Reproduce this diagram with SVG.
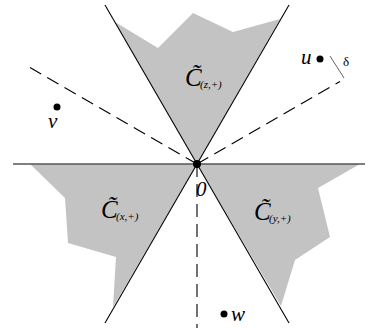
<svg xmlns="http://www.w3.org/2000/svg" width="375" height="328" viewBox="0 0 375 328">
<style>
.region{fill:#c3c3c3;stroke:none}
.ray{stroke:#000;stroke-width:1.1;fill:none}
.axis{stroke:#555;stroke-width:1.4;fill:none}
.dash{stroke:#000;stroke-width:1.1;fill:none;stroke-dasharray:13 7}
.tick{stroke:#666;stroke-width:1;fill:none}
.lbl{font-family:"Liberation Serif",serif;font-style:italic;fill:#000}
.big{font-size:25px}
.sub{font-size:11px}
.pt{font-size:21px}
.dot{fill:#000}
</style>
<rect width="375" height="328" fill="#fff"/>
<g id="regions">
<polygon id="cz" class="region" points="115,22 158,48 193,13 233,32 280,19 197,164"/>
<polygon id="cx" class="region" points="30,164 65,198 68,243 116,257 113,307 197,164"/>
<polygon id="cy" class="region" points="360,164 318,188 330,237 295,260 281,306 197,164"/>
</g>
<g id="connectors">
<line class="axis" x1="13" y1="164" x2="365" y2="164"/>
<line class="ray" x1="105" y1="5" x2="197" y2="164"/>
<line class="ray" x1="289" y1="5" x2="197" y2="164"/>
<line class="ray" x1="105" y1="323" x2="197" y2="164"/>
<line class="ray" x1="289" y1="323" x2="197" y2="164"/>
<line class="dash" x1="197" y1="164" x2="30" y2="67.6"/>
<line class="dash" x1="197" y1="164" x2="340" y2="81.4"/>
<line class="dash" x1="197" y1="164" x2="197" y2="328"/>
<line class="tick" x1="330" y1="56" x2="344" y2="78"/>
</g>
<g id="origin">
<circle class="dot" cx="197" cy="164" r="4"/>
<text class="lbl pt" x="196" y="196">0</text>
</g>
<g id="label-cz">
<text class="lbl big" x="185" y="86">C&#x303;</text>
<text class="lbl sub" x="200" y="88">(z,+)</text>
</g>
<g id="label-cx">
<text class="lbl big" x="101" y="218">C&#x303;</text>
<text class="lbl sub" x="116" y="220">(x,+)</text>
</g>
<g id="label-cy">
<text class="lbl big" x="254" y="220">C&#x303;</text>
<text class="lbl sub" x="269" y="222">(y,+)</text>
</g>
<g id="point-u">
<circle class="dot" cx="320" cy="59" r="3.5"/>
<text class="lbl pt" x="301" y="64">u</text>
<text x="343" y="66" font-family="Liberation Serif,serif" font-size="13" fill="#000">δ</text>
</g>
<g id="point-v">
<circle class="dot" cx="57" cy="107" r="3.5"/>
<text class="lbl pt" x="48" y="128">v</text>
</g>
<g id="point-w">
<circle class="dot" cx="224" cy="314" r="3.5"/>
<text class="lbl pt" x="231" y="321">w</text>
</g>
</svg>
